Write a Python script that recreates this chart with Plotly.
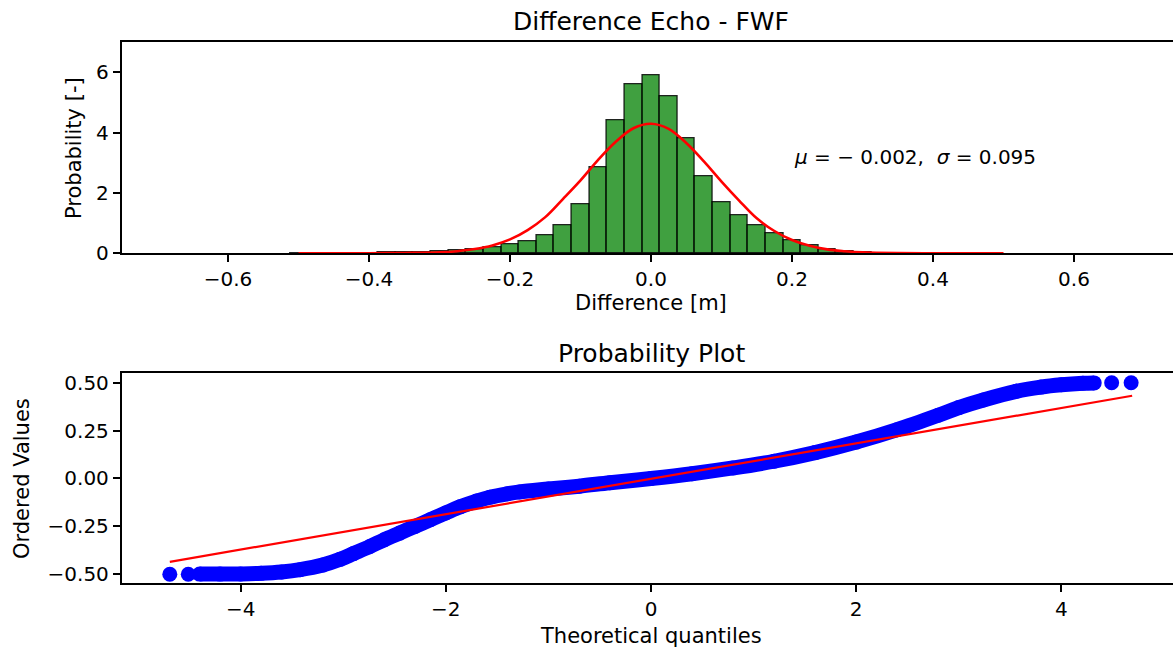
import plotly.graph_objects as go

# ---------------- data ----------------
hist_centers = [-0.500, -0.475, -0.450, -0.425, -0.400, -0.375, -0.350, -0.325, -0.300, -0.275,
                -0.250, -0.225, -0.200, -0.175, -0.150, -0.125, -0.100, -0.075, -0.050, -0.025,
                0.000, 0.025, 0.050, 0.075, 0.100, 0.125, 0.150, 0.175, 0.200, 0.225,
                0.250, 0.275, 0.300, 0.325, 0.350]
hist_density = [0.005, 0.005, 0.008, 0.01, 0.015, 0.025, 0.035, 0.045, 0.06, 0.09,
                0.14, 0.20, 0.31, 0.41, 0.61, 0.92, 1.63, 2.85, 4.40, 5.61,
                5.91, 5.21, 3.83, 2.56, 1.69, 1.27, 0.94, 0.66, 0.44, 0.27,
                0.14, 0.07, 0.03, 0.012, 0.005]
bin_width = 0.025

fit_x = [-0.5, -0.45, -0.4, -0.35, -0.3, -0.275, -0.25, -0.225, -0.2, -0.175, -0.15, -0.125,
         -0.1, -0.075, -0.05, -0.025, 0.0, 0.025, 0.05, 0.075, 0.1, 0.125, 0.15, 0.175,
         0.2, 0.225, 0.25, 0.275, 0.3, 0.35, 0.4, 0.45, 0.5]
fit_y = [0.0, 0.0, 0.001, 0.01, 0.03, 0.07, 0.14, 0.26, 0.46, 0.77, 1.2, 1.8,
         2.42, 3.1, 3.7, 4.15, 4.3, 4.13, 3.66, 3.05, 2.38, 1.75, 1.16, 0.74,
         0.44, 0.25, 0.13, 0.07, 0.03, 0.005, 0.001, 0.0, 0.0]

mu_text = "<i>μ</i> = − 0.002,  <i>σ</i> = 0.095"

qq_dots_x = [-4.69, -4.51, 4.49, 4.68]
qq_dots_y = [-0.500, -0.500, 0.500, 0.500]
qq_band_x = [-4.40, -4.2, -4.0, -3.8, -3.6, -3.42, -3.2, -3.03, -2.9, -2.74, -2.6, -2.45,
             -2.3, -2.15, -2.0, -1.86, -1.7, -1.57, -1.4, -1.28, -1.0, -0.7, -0.4, 0.0,
             0.4, 0.8, 1.2, 1.6, 2.0, 2.4, 2.8, 3.0, 3.24, 3.56, 3.8, 4.0, 4.21, 4.32]
qq_band_y = [-0.499, -0.499, -0.498, -0.495, -0.488, -0.476, -0.452, -0.422, -0.392, -0.355, -0.32, -0.285,
             -0.25, -0.215, -0.18, -0.148, -0.118, -0.098, -0.08, -0.07, -0.055, -0.04, -0.022, 0.0,
             0.025, 0.055, 0.09, 0.135, 0.19, 0.255, 0.33, 0.37, 0.41, 0.455, 0.477, 0.489, 0.497, 0.499]
qq_line_x = [-4.69, 4.69]
qq_line_y = [-0.435, 0.432]

top_xticks = [-0.6, -0.4, -0.2, 0.0, 0.2, 0.4, 0.6]
top_xtext = ["−0.6", "−0.4", "−0.2", "0.0", "0.2", "0.4", "0.6"]
top_yticks = [0, 2, 4, 6]
top_ytext = ["0", "2", "4", "6"]
bot_xticks = [-4, -2, 0, 2, 4]
bot_xtext = ["−4", "−2", "0", "2", "4"]
bot_yticks = [-0.5, -0.25, 0.0, 0.25, 0.5]
bot_ytext = ["−0.50", "−0.25", "0.00", "0.25", "0.50"]

# ---------------- figure ----------------
W, H = 1173, 648
FONT = "DejaVu Sans"
left_px = 121.7

def py(px):
    return 1 - px / H

fig = go.Figure()

fig.add_trace(go.Bar(x=hist_centers, y=hist_density, width=bin_width,
                     marker=dict(color="rgba(0,128,0,0.75)",
                                 line=dict(color="rgba(0,0,0,0.85)", width=1.3)),
                     xaxis="x", yaxis="y", showlegend=False))
fig.add_trace(go.Scatter(x=fit_x, y=fit_y, mode="lines", line=dict(color="#ff0000", width=2.6, shape="spline"),
                         xaxis="x", yaxis="y", showlegend=False))

fig.add_trace(go.Scatter(x=qq_band_x, y=qq_band_y, mode="lines+markers",
                         line=dict(color="#0000ff", width=15, shape="spline"),
                         marker=dict(color="#0000ff", size=15, line=dict(width=0)),
                         xaxis="x2", yaxis="y2", showlegend=False))
fig.add_trace(go.Scatter(x=qq_dots_x, y=qq_dots_y, mode="markers",
                         marker=dict(color="#0000ff", size=15, line=dict(width=0)),
                         xaxis="x2", yaxis="y2", showlegend=False))
fig.add_trace(go.Scatter(x=qq_line_x, y=qq_line_y, mode="lines",
                         line=dict(color="#ff0000", width=2.2),
                         xaxis="x2", yaxis="y2", showlegend=False))

axis_common = dict(showgrid=False, zeroline=False, showline=True, linecolor="black", linewidth=1.7,
                   ticks="outside", ticklen=7, tickwidth=1.5, tickcolor="black",
                   tickfont=dict(family=FONT, size=20, color="black"), automargin=False)

fig.update_layout(
    width=W, height=H,
    margin=dict(l=0, r=0, t=0, b=0),
    paper_bgcolor="white", plot_bgcolor="white",
    bargap=0,
    xaxis=dict(domain=[left_px / W, 1], range=[-0.7508, 0.7404], tickvals=top_xticks, ticktext=top_xtext,
               anchor="y", mirror=True, **axis_common),
    yaxis=dict(domain=[py(253.3), py(42.3)], range=[0, 7], tickvals=top_yticks, ticktext=top_ytext,
               anchor="x", **axis_common),
    xaxis2=dict(domain=[left_px / W, 1], range=[-5.159, 5.088], tickvals=bot_xticks, ticktext=bot_xtext,
                anchor="y2", mirror=True, **axis_common),
    yaxis2=dict(domain=[py(583.3), py(373.3)], range=[-0.547, 0.549], tickvals=bot_yticks, ticktext=bot_ytext,
                anchor="x2", **axis_common),
)

def ann(text, x, y, size=21, angle=0, xref="paper", yref="paper", xanchor="center", yanchor="middle"):
    fig.add_annotation(text=text, x=x, y=y, xref=xref, yref=yref, showarrow=False,
                       xanchor=xanchor, yanchor=yanchor, textangle=angle,
                       font=dict(family=FONT, size=size, color="black"))

cx = 651 / W
ann("Difference Echo - FWF", cx, py(21), size=25)
ann("Difference [m]", cx, py(303))
ann("Probability Plot", cx, py(353), size=25)
ann("Theoretical quantiles", cx, py(636))
ann("Probability [-]", 74 / W, py(148), angle=-90)
ann("Ordered Values", 22 / W, py(479), angle=-90)
ann(mu_text, 0.2, 3.19, size=20, xref="x", yref="y", xanchor="left")

fig.write_html("out.html", config={"displayModeBar": False},
               post_script="document.body.style.margin='0';document.body.style.overflow='hidden';")
